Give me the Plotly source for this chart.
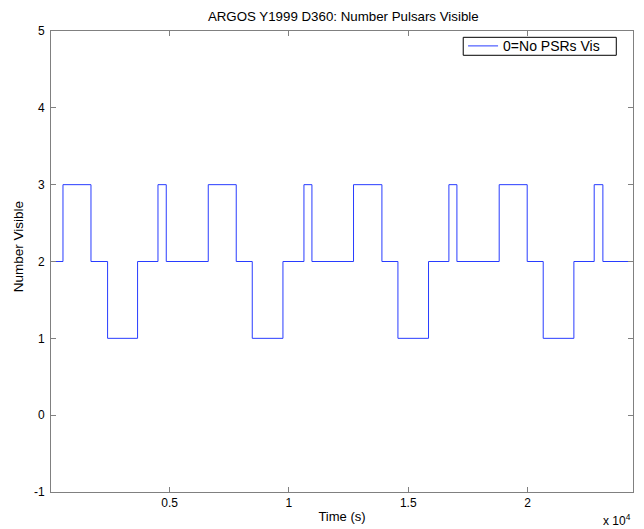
import plotly.graph_objects as go

# Step data: transition times (s) and number of pulsars visible from that time on
time_s = [30, 532, 1705, 2401, 3658, 4513, 4860, 6620, 7793, 8464, 9750, 10630,
          10965, 12708, 13898, 14569, 15851, 16705, 17041, 18813, 19986, 20657,
          21943, 22794, 23158, 24420]
num_visible = [2, 3, 2, 1, 2, 3, 2, 3, 2, 1, 2, 3,
               2, 3, 2, 1, 2, 3, 2, 3, 2, 1,
               2, 3, 2, 2]

x_tick_vals = [5000, 10000, 15000, 20000]
x_tick_text = ["0.5", "1", "1.5", "2"]
y_tick_vals = [-1, 0, 1, 2, 3, 4, 5]
y_tick_text = ["-1", "0", "1", "2", "3", "4", "5"]

FONT = "Liberation Sans, Arial, sans-serif"
AX = "#808080"

fig = go.Figure()
fig.add_trace(go.Scatter(
    x=time_s, y=num_visible, mode="lines", line_shape="hv",
    line=dict(color="rgb(40,60,255)", width=1),
    name="0=No PSRs Vis", showlegend=True,
))

fig.update_layout(
    width=644, height=529,
    margin=dict(l=51, r=11, t=31, b=37, autoexpand=False),
    paper_bgcolor="white", plot_bgcolor="white",
    font=dict(family=FONT, size=12, color="black"),
    title=dict(text="ARGOS Y1999 D360: Number Pulsars Visible",
               x=0.533, xanchor="center", y=1 - 16 / 529, yanchor="middle",
               yref="container", font=dict(size=13.3)),
    showlegend=True,
    legend=dict(x=0.708, y=0.9668, xanchor="left", yanchor="middle",
                bgcolor="rgba(0,0,0,0)", borderwidth=0,
                font=dict(size=14), itemwidth=30,
                tracegroupgap=0),
    xaxis=dict(range=[30, 24420], tickvals=x_tick_vals, ticktext=x_tick_text,
               automargin=False,
               showgrid=False, zeroline=False, showline=True, linecolor=AX,
               linewidth=1, mirror="ticks", ticks="inside", ticklen=5,
               tickcolor=AX, tickfont=dict(size=12),
               title=dict(text="Time (s)", standoff=2, font=dict(size=13))),
    yaxis=dict(range=[-1, 5], tickvals=y_tick_vals, ticktext=y_tick_text,
               automargin=False, ticklabelstandoff=3,
               showgrid=False, zeroline=False, showline=True, linecolor=AX,
               linewidth=1, mirror="ticks", ticks="inside", ticklen=5,
               tickcolor=AX, tickfont=dict(size=12)),
)

# y-axis label
fig.add_annotation(text="Number Visible", xref="paper", yref="paper",
                   x=(18 - 51) / 581.7, y=(491.7 - 246) / 461,
                   xanchor="center", yanchor="middle", textangle=-90,
                   showarrow=False, font=dict(size=13.5, family=FONT))

# legend frame (MATLAB style box)
fig.add_shape(type="rect", xref="paper", yref="paper",
              x0=0.7083, x1=0.9713, y0=0.9473, y1=0.9863,
              line=dict(color="black", width=1), fillcolor="white", layer="above")

fig.add_annotation(text="x 10<sup>4</sup>", xref="paper", yref="paper",
                   x=1.0, y=-0.038, xanchor="right", yanchor="top",
                   showarrow=False, font=dict(size=12, family=FONT))

fig.write_html("out.html", config={"displayModeBar": False},
               post_script="document.body.style.margin='0';")
